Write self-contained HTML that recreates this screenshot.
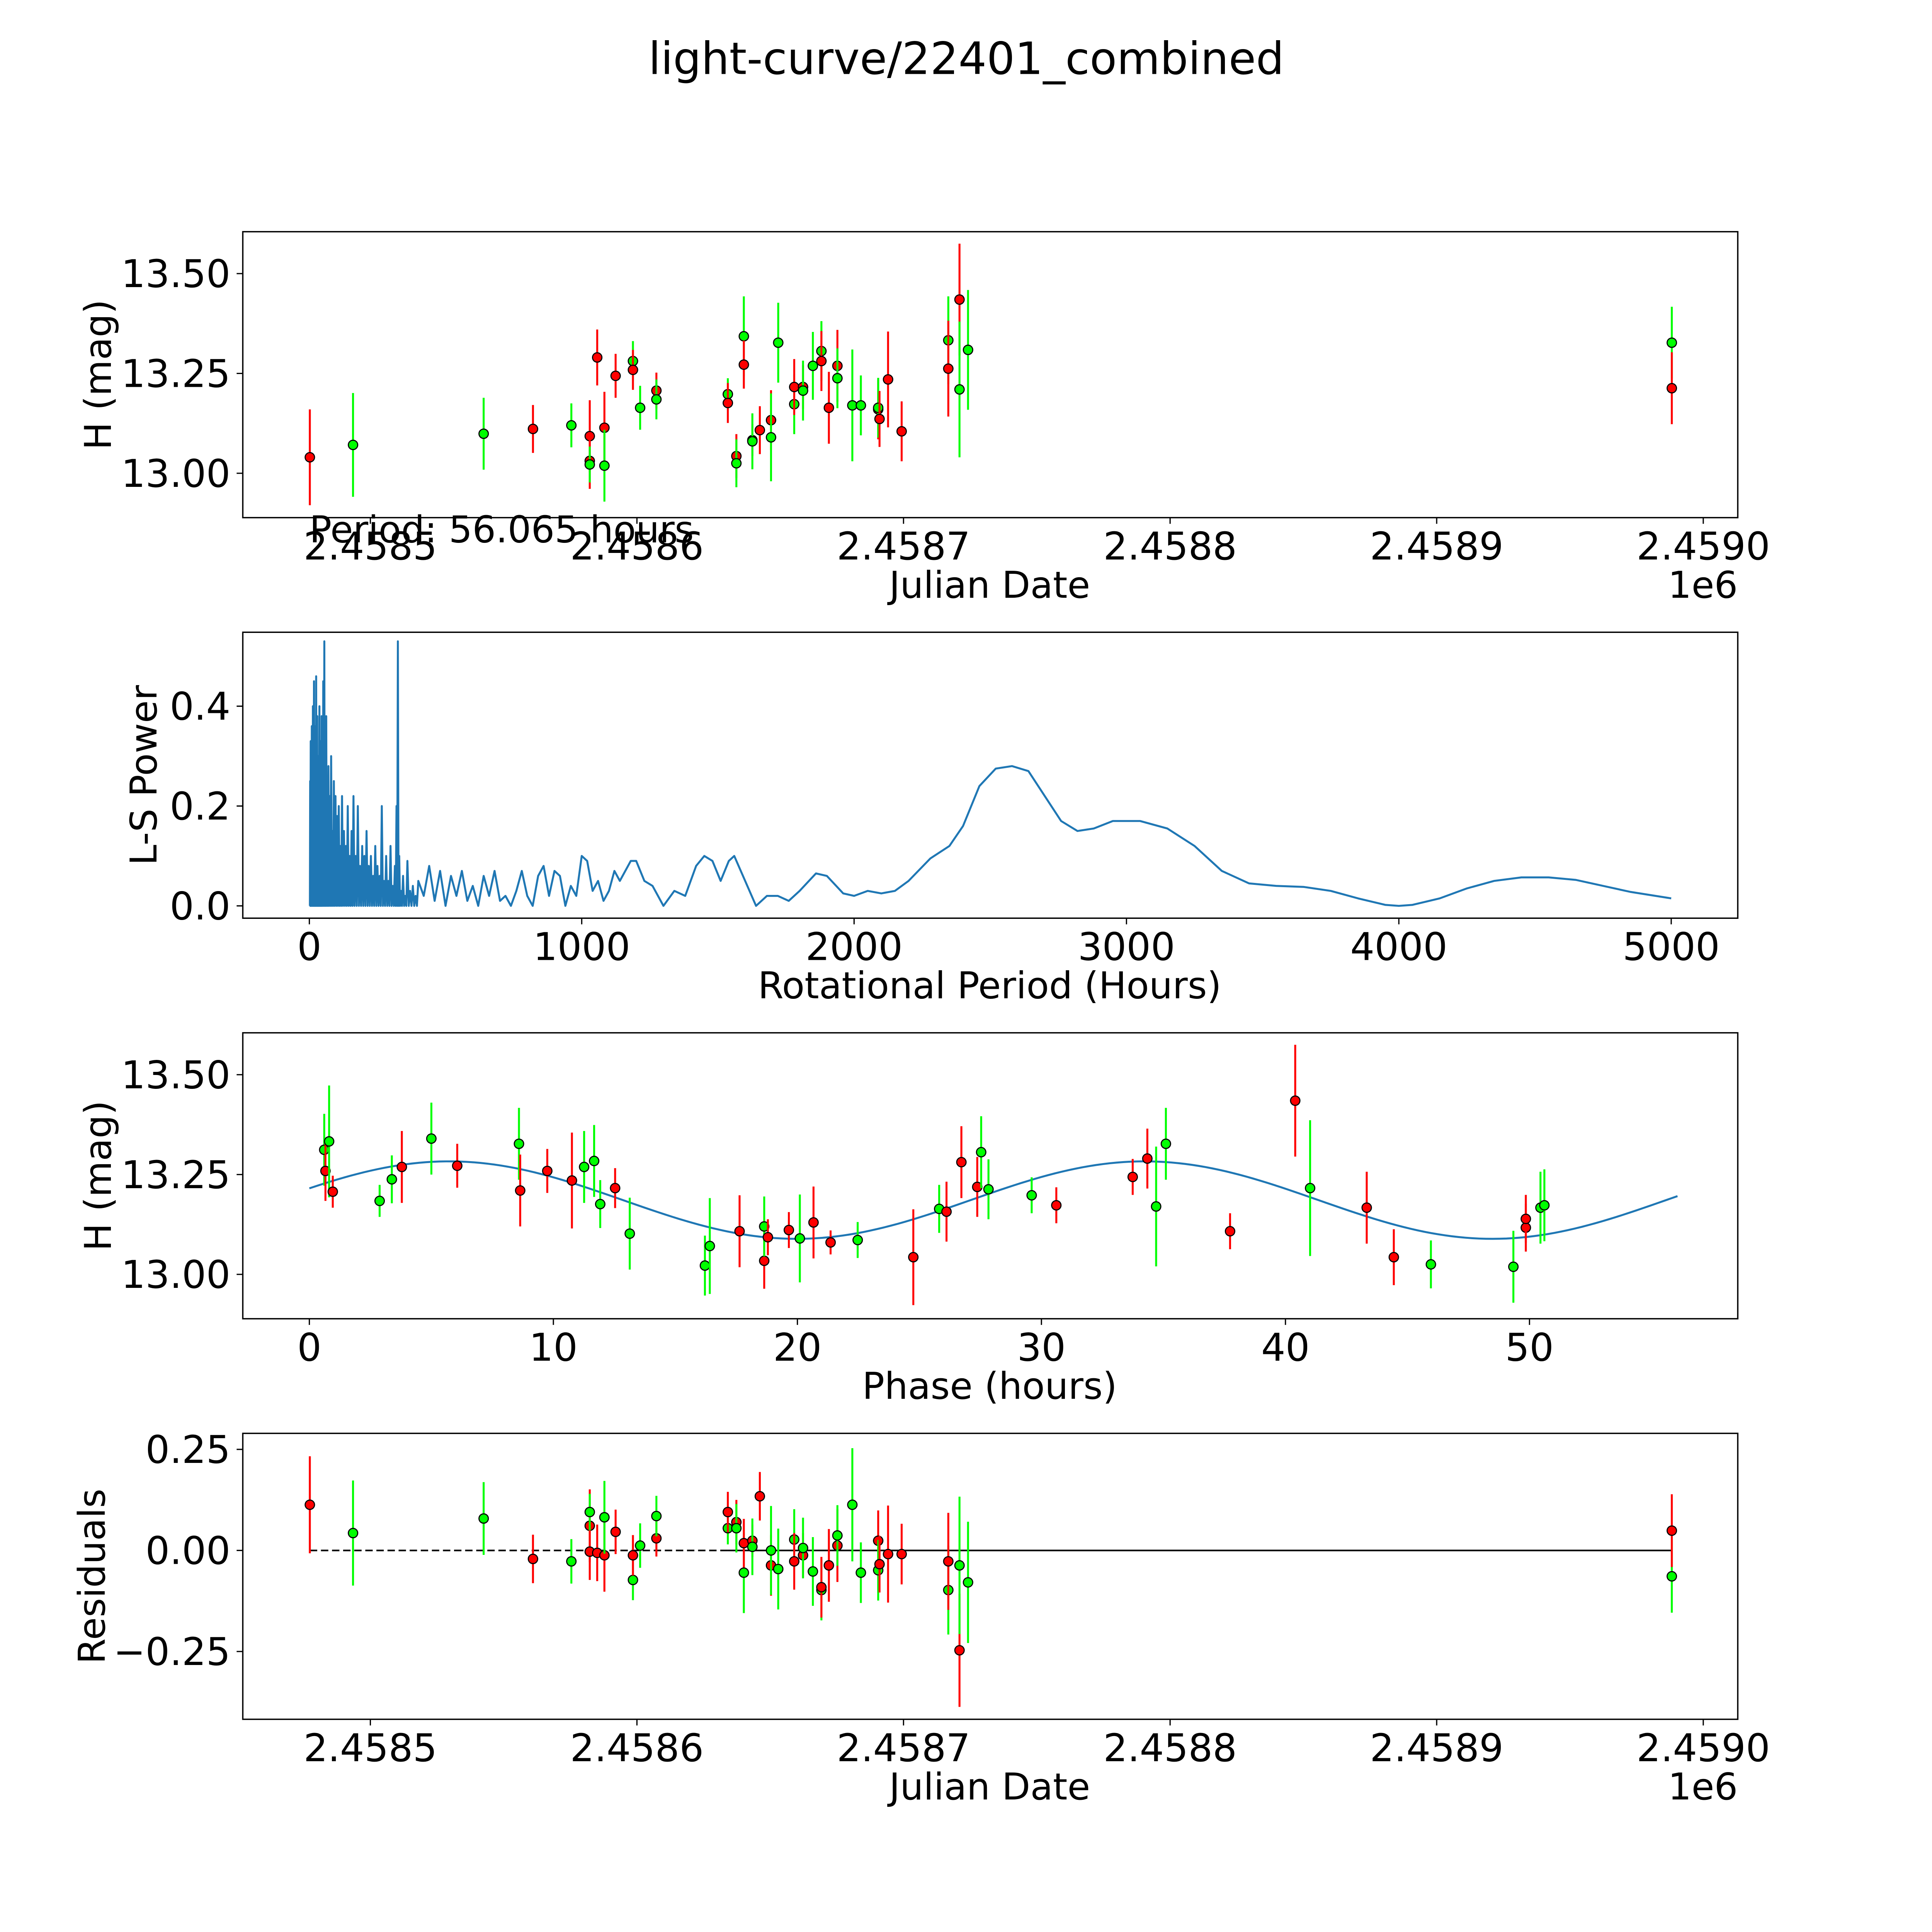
<!DOCTYPE html>
<html><head><meta charset="utf-8"><style>
html,body{margin:0;padding:0;background:#fff;overflow:hidden}
svg{display:block}
text{font-family:"DejaVu Sans","Liberation Sans",sans-serif;fill:#000}
</style></head><body>
<svg id="fig" width="5400" height="5400" viewBox="0 0 1693 1693" xmlns="http://www.w3.org/2000/svg">
<rect width="1693" height="1693" fill="#fff"/>
<text x="784" y="60" font-size="36" text-anchor="middle">light-curve/22401_combined</text>
<g id="layer"></g>
</svg>
<script>
// ---- Data (JD offsets are JD - 2458000) ----
const lcJD=[477.3,493.5,542.5,561.0,575.4,582.3,582.3,582.3,585.1,587.8,587.8,592.0,598.5,598.5,601.2,607.3,607.3,634.1,634.1,637.3,637.3,640.1,640.1,643.3,643.3,646.1,650.3,650.3,653.0,659.0,659.0,662.3,662.3,666.0,669.2,669.2,672.0,675.2,675.2,680.8,684.0,690.5,690.5,691.0,694.2,699.3,716.8,716.8,721.0,721.0,724.2,988.2,988.2];
const lcMag=[13.040,13.071,13.099,13.111,13.120,13.093,13.031,13.022,13.290,13.114,13.019,13.244,13.281,13.259,13.164,13.207,13.185,13.198,13.176,13.043,13.025,13.343,13.272,13.083,13.080,13.108,13.133,13.090,13.327,13.173,13.216,13.216,13.207,13.269,13.306,13.281,13.164,13.269,13.238,13.170,13.170,13.160,13.164,13.136,13.235,13.105,13.333,13.262,13.435,13.210,13.309,13.327,13.213];
const lcErr=[0.12,0.13,0.09,0.06,0.055,0.09,0.07,0.045,0.07,0.09,0.09,0.055,0.05,0.05,0.055,0.045,0.05,0.04,0.05,0.055,0.06,0.1,0.06,0.04,0.07,0.06,0.075,0.11,0.1,0.075,0.07,0.055,0.075,0.085,0.075,0.075,0.09,0.09,0.075,0.14,0.075,0.075,0.075,0.07,0.12,0.075,0.11,0.12,0.14,0.17,0.15,0.09,0.09];
const lcCol=['r','g','g','r','g','r','r','g','r','r','g','r','g','r','g','r','g','g','r','r','g','g','r','r','g','r','r','g','g','g','r','r','g','g','g','r','r','r','g','g','g','r','g','r','r','r','g','r','r','g','g','g','r'];

const phPhase=[0.61,0.66,0.81,0.96,2.88,3.38,3.79,5.00,6.06,8.59,8.64,9.75,10.76,11.26,11.67,11.92,12.53,13.13,16.21,16.41,17.63,18.64,18.64,18.79,19.65,20.10,20.66,21.36,22.47,24.75,25.81,26.11,26.72,27.37,27.53,27.83,29.60,30.61,33.74,34.34,34.70,35.10,37.73,40.40,41.01,43.33,44.44,45.96,49.34,49.85,49.85,50.45,50.61];
const phMag=[13.312,13.259,13.333,13.207,13.184,13.238,13.269,13.340,13.272,13.327,13.210,13.259,13.235,13.269,13.284,13.176,13.216,13.102,13.022,13.071,13.108,13.034,13.120,13.093,13.111,13.090,13.130,13.080,13.086,13.043,13.164,13.157,13.281,13.219,13.306,13.213,13.198,13.173,13.244,13.290,13.170,13.327,13.108,13.435,13.216,13.167,13.043,13.025,13.019,13.117,13.139,13.167,13.173];
const phErr=[0.09,0.075,0.14,0.04,0.04,0.06,0.09,0.09,0.055,0.09,0.09,0.055,0.12,0.09,0.09,0.06,0.05,0.09,0.075,0.12,0.09,0.07,0.075,0.045,0.045,0.11,0.09,0.03,0.045,0.12,0.06,0.075,0.09,0.075,0.09,0.075,0.045,0.045,0.045,0.075,0.15,0.09,0.045,0.14,0.17,0.09,0.07,0.06,0.09,0.06,0.06,0.09,0.09];
const phCol=['g','r','g','r','g','g','r','g','r','g','r','r','r','g','g','g','r','g','g','g','r','r','g','r','r','g','r','r','g','r','g','r','r','r','g','g','g','r','r','r','g','g','r','r','g','r','r','g','g','r','r','g','g'];
const fitPeriod=56.065, fitMean=13.186, fitAmp=0.097, fitCycle=28.5, fitShift=-1.4;

const resJD=[477.3,493.5,542.5,561.0,575.4,582.3,582.3,582.3,585.1,587.8,587.8,592.0,598.5,598.5,601.2,607.3,607.3,634.1,634.1,637.3,637.3,640.1,640.1,643.3,643.3,646.1,650.3,650.3,653.0,659.0,659.0,662.3,662.3,666.0,669.2,669.2,672.0,675.2,675.2,680.8,684.0,690.5,690.5,691.0,694.2,699.3,716.8,716.8,721.0,721.0,724.2,988.2,988.2];
const resVal=[0.113,0.043,0.079,-0.021,-0.027,0.061,-0.003,0.095,-0.006,-0.012,0.082,0.046,-0.073,-0.012,0.012,0.030,0.085,0.055,0.095,0.070,0.055,-0.055,0.018,0.024,0.009,0.134,-0.037,0.0,-0.046,0.027,-0.027,-0.012,0.006,-0.052,-0.098,-0.091,-0.037,0.012,0.037,0.113,-0.055,0.024,-0.049,-0.034,-0.009,-0.009,-0.098,-0.027,-0.247,-0.037,-0.079,-0.064,0.049];
const resErr=[0.12,0.13,0.09,0.06,0.055,0.09,0.07,0.045,0.07,0.09,0.09,0.055,0.05,0.05,0.055,0.045,0.05,0.04,0.05,0.055,0.06,0.1,0.06,0.04,0.07,0.06,0.075,0.11,0.1,0.075,0.07,0.055,0.075,0.085,0.075,0.075,0.09,0.09,0.075,0.14,0.075,0.075,0.075,0.07,0.12,0.075,0.11,0.12,0.14,0.17,0.15,0.09,0.09];
const resCol=['r','g','g','r','g','r','r','g','r','r','g','r','g','r','g','r','g','g','r','r','g','g','r','r','g','r','r','g','g','g','r','r','g','g','g','r','r','r','g','g','g','r','g','r','r','r','g','r','r','g','g','g','r'];

const lsSpikePeriod=[3,5,7,9,11,13,15,17,19,21,23,25,27,29,31,33,35,37,39,41,43,45,48,51,55,58,62,66,70,75,80,85,90,96,102,108,114,120,127,134,141,148,155,162,170,178,186,194,202,210,218,226,234,242,250,258,266,274,282,290,298,306,314,320,325,330,336,344,352,360,370,380,390];
const lsSpikePower=[0.25,0.33,0.1,0.36,0.2,0.4,0.15,0.45,0.3,0.36,0.2,0.46,0.28,0.38,0.15,0.3,0.25,0.4,0.2,0.33,0.22,0.38,0.3,0.45,0.53,0.3,0.38,0.2,0.28,0.22,0.3,0.15,0.25,0.22,0.18,0.2,0.12,0.22,0.15,0.12,0.2,0.1,0.15,0.22,0.1,0.2,0.08,0.12,0.1,0.15,0.08,0.1,0.06,0.12,0.08,0.06,0.2,0.05,0.1,0.05,0.12,0.04,0.08,0.2,0.53,0.1,0.03,0.06,0.02,0.09,0.03,0.04,0.02];
const lsPeriod=[400,420,440,460,480,500,520,540,560,580,600,620,640,660,680,700,720,740,760,780,800,820,840,860,880,900,920,940,960,980,1000,1020,1040,1060,1080,1100,1120,1140,1180,1200,1230,1260,1280,1300,1340,1380,1420,1450,1480,1510,1540,1560,1600,1640,1680,1720,1760,1800,1860,1900,1960,2000,2050,2100,2150,2200,2280,2350,2400,2460,2520,2580,2640,2700,2760,2820,2880,2950,3050,3150,3250,3350,3450,3550,3650,3750,3850,3950,4000,4050,4150,4250,4350,4450,4550,4650,4750,4850,5000];
const lsPower=[0.05,0.02,0.08,0.01,0.07,0.0,0.06,0.02,0.07,0.01,0.04,0.0,0.06,0.02,0.07,0.01,0.02,0.0,0.03,0.07,0.02,0.0,0.06,0.08,0.02,0.07,0.06,0.0,0.04,0.02,0.1,0.09,0.03,0.05,0.01,0.03,0.07,0.05,0.09,0.09,0.05,0.04,0.02,0.0,0.03,0.02,0.08,0.1,0.09,0.05,0.09,0.1,0.05,0.0,0.02,0.02,0.01,0.03,0.065,0.06,0.025,0.02,0.03,0.025,0.03,0.05,0.095,0.12,0.16,0.24,0.275,0.28,0.27,0.22,0.17,0.15,0.155,0.17,0.17,0.155,0.12,0.07,0.045,0.04,0.038,0.03,0.015,0.002,0.0,0.002,0.015,0.035,0.05,0.057,0.057,0.052,0.04,0.028,0.015];

const jdTicks=[500,600,700,800,900,1000];
const jdTickLabels=['2.4585','2.4586','2.4587','2.4588','2.4589','2.4590'];
const magTicks=[13.0,13.25,13.5];
const magTickLabels=['13.00','13.25','13.50'];
const lsXTicks=[0,1000,2000,3000,4000,5000];
const lsYTicks=[0,0.2,0.4];
const lsYTickLabels=['0.0','0.2','0.4'];
const phTicks=[0,10,20,30,40,50];
const resTicks=[-0.25,0,0.25];
const resTickLabels=['\u22120.25','0.00','0.25'];

// ---- Rendering ----
const NS='http://www.w3.org/2000/svg';
const layer=document.getElementById('layer');
function mk(tag,attrs,parent){const e=document.createElementNS(NS,tag);for(const k in attrs)e.setAttribute(k,attrs[k]);(parent||layer).appendChild(e);return e;}
const L=197,R=1410;
const TF=31, AF=30;
function lin(d0,d1,p0,p1){return v=>p0+(v-d0)*(p1-p0)/(d1-d0);}
const jdX=lin(500,1000,300.5,1382);
const COLORS={r:'#ff0000',g:'#00ff00'};

function axesFrame(name){
  const g=mk('g',{});
  
  
  return g;
}
function frame(g,top,bottom){mk('rect',{x:L,y:top,width:R-L,height:bottom-top,fill:'none',stroke:'#000','stroke-width':1.1},g);}
function xTicks(g,ticks,labels,sx,bottom){
  ticks.forEach((t,i)=>{const x=sx(t);
    mk('line',{x1:x,x2:x,y1:bottom,y2:bottom+5,stroke:'#000','stroke-width':1},g);
    const tx=mk('text',{x:x,y:bottom+34,'font-size':TF,'text-anchor':'middle'},g);
    
    
    tx.textContent=labels[i];});
}
function yTicks(g,ticks,labels,sy){
  ticks.forEach((t,i)=>{const y=sy(t);
    mk('line',{x1:L-5,x2:L,y1:y,y2:y,stroke:'#000','stroke-width':1},g);
    const tx=mk('text',{x:L-10,y:y+11,'font-size':TF,'text-anchor':'end'},g);
    
    
    tx.textContent=labels[i];});
}
function label(g,txt,x,y,rot,name){
  const t=mk('text',{x:x,y:y,'font-size':AF,'text-anchor':'middle',transform:rot?`rotate(-90 ${x} ${y})`:''},g);
  
  
  t.textContent=txt;
}
function points(g,xs,ys,es,cs,sx,sy,name){
  for(let i=0;i<xs.length;i++){
    const x=sx(xs[i]),c=COLORS[cs[i]];
    mk('line',{x1:x,x2:x,y1:sy(ys[i]-es[i]),y2:sy(ys[i]+es[i]),stroke:c,'stroke-width':1.6},g);
    const p=mk('circle',{cx:x,cy:sy(ys[i]),r:3.8,fill:c,stroke:'#000','stroke-width':0.9},g);
    
    
  }
}

// Panel 1
{const top=188,bot=420;const sy=lin(13,13.5,384,222);
 const g=axesFrame('light-curve-axes');
 points(g,lcJD,lcMag,lcErr,lcCol,jdX,sy,'light-curve-point');
 frame(g,top,bot);xTicks(g,jdTicks,jdTickLabels,jdX,bot);yTicks(g,magTicks,magTickLabels,sy);
 label(g,'Julian Date',803,485,false,'x-axis-title');label(g,'H (mag)',90,304,true,'y-axis-title');
 const e=mk('text',{x:1410,y:485,'font-size':AF,'text-anchor':'end'},g);
 
 
 e.textContent='1e6';
 const p=mk('text',{x:251,y:440,'font-size':AF},g);
 
 
 p.textContent='Period: 56.065 hours';
}
// Panel 2
{const top=513,bot=745;const sx=lin(0,5000,251,1356),sy=lin(0,0.4,735,573);
 const g=axesFrame('periodogram-axes');
 let d='M'+sx(1)+','+sy(0);
 let prev=1;
 lsSpikePeriod.forEach((p,i)=>{d+=' L'+sx((prev+p)/2)+','+sy(0)+' L'+sx(p)+','+sy(lsSpikePower[i]);prev=p;});
 d+=' L'+sx(395)+','+sy(0);
 lsPeriod.forEach((p,i)=>{d+=' L'+sx(p).toFixed(2)+','+sy(lsPower[i]).toFixed(2);});
 const path=mk('path',{d:d,fill:'none',stroke:'#1f77b4','stroke-width':1.6,'stroke-linejoin':'round'},g);
 
 
 frame(g,top,bot);xTicks(g,lsXTicks,lsXTicks.map(String),sx,bot);yTicks(g,lsYTicks,lsYTickLabels,sy);
 label(g,'Rotational Period (Hours)',803,810,false,'x-axis-title');label(g,'L-S Power',127,629,true,'y-axis-title');
}
// Panel 3
{const top=838,bot=1070;const sx=lin(0,50,251,1241),sy=lin(13,13.5,1034,872);
 const g=axesFrame('phase-folded-axes');
 let d='';
 for(let k=0;k<=200;k++){const p=fitPeriod*k/200;const m=fitMean+fitAmp*Math.sin(2*Math.PI*(p-fitShift)/fitCycle);d+=(k?' L':'M')+sx(p).toFixed(2)+','+sy(m).toFixed(2);}
 const path=mk('path',{d:d,fill:'none',stroke:'#1f77b4','stroke-width':1.6},g);
 
 
 points(g,phPhase,phMag,phErr,phCol,sx,sy,'phase-point');
 frame(g,top,bot);xTicks(g,phTicks,phTicks.map(String),sx,bot);yTicks(g,magTicks,magTickLabels,sy);
 label(g,'Phase (hours)',803,1135,false,'x-axis-title');label(g,'H (mag)',90,954,true,'y-axis-title');
}
// Panel 4
{const top=1163,bot=1395;const sy=lin(0,0.25,1258,1176);
 const g=axesFrame('residuals-axes');
 mk('line',{x1:jdX(477.3),x2:jdX(634),y1:sy(0),y2:sy(0),stroke:'#000','stroke-width':1.3,'stroke-dasharray':'6,3'},g);
 mk('line',{x1:jdX(634),x2:jdX(988.2),y1:sy(0),y2:sy(0),stroke:'#000','stroke-width':1.3},g);
 points(g,resJD,resVal,resErr,resCol,jdX,sy,'residual-point');
 frame(g,top,bot);xTicks(g,jdTicks,jdTickLabels,jdX,bot);yTicks(g,resTicks,resTickLabels,sy);
 label(g,'Julian Date',803,1460,false,'x-axis-title');label(g,'Residuals',85,1279,true,'y-axis-title');
 const e=mk('text',{x:1410,y:1460,'font-size':AF,'text-anchor':'end'},g);
 
 
 e.textContent='1e6';
}
</script>
</body></html>
